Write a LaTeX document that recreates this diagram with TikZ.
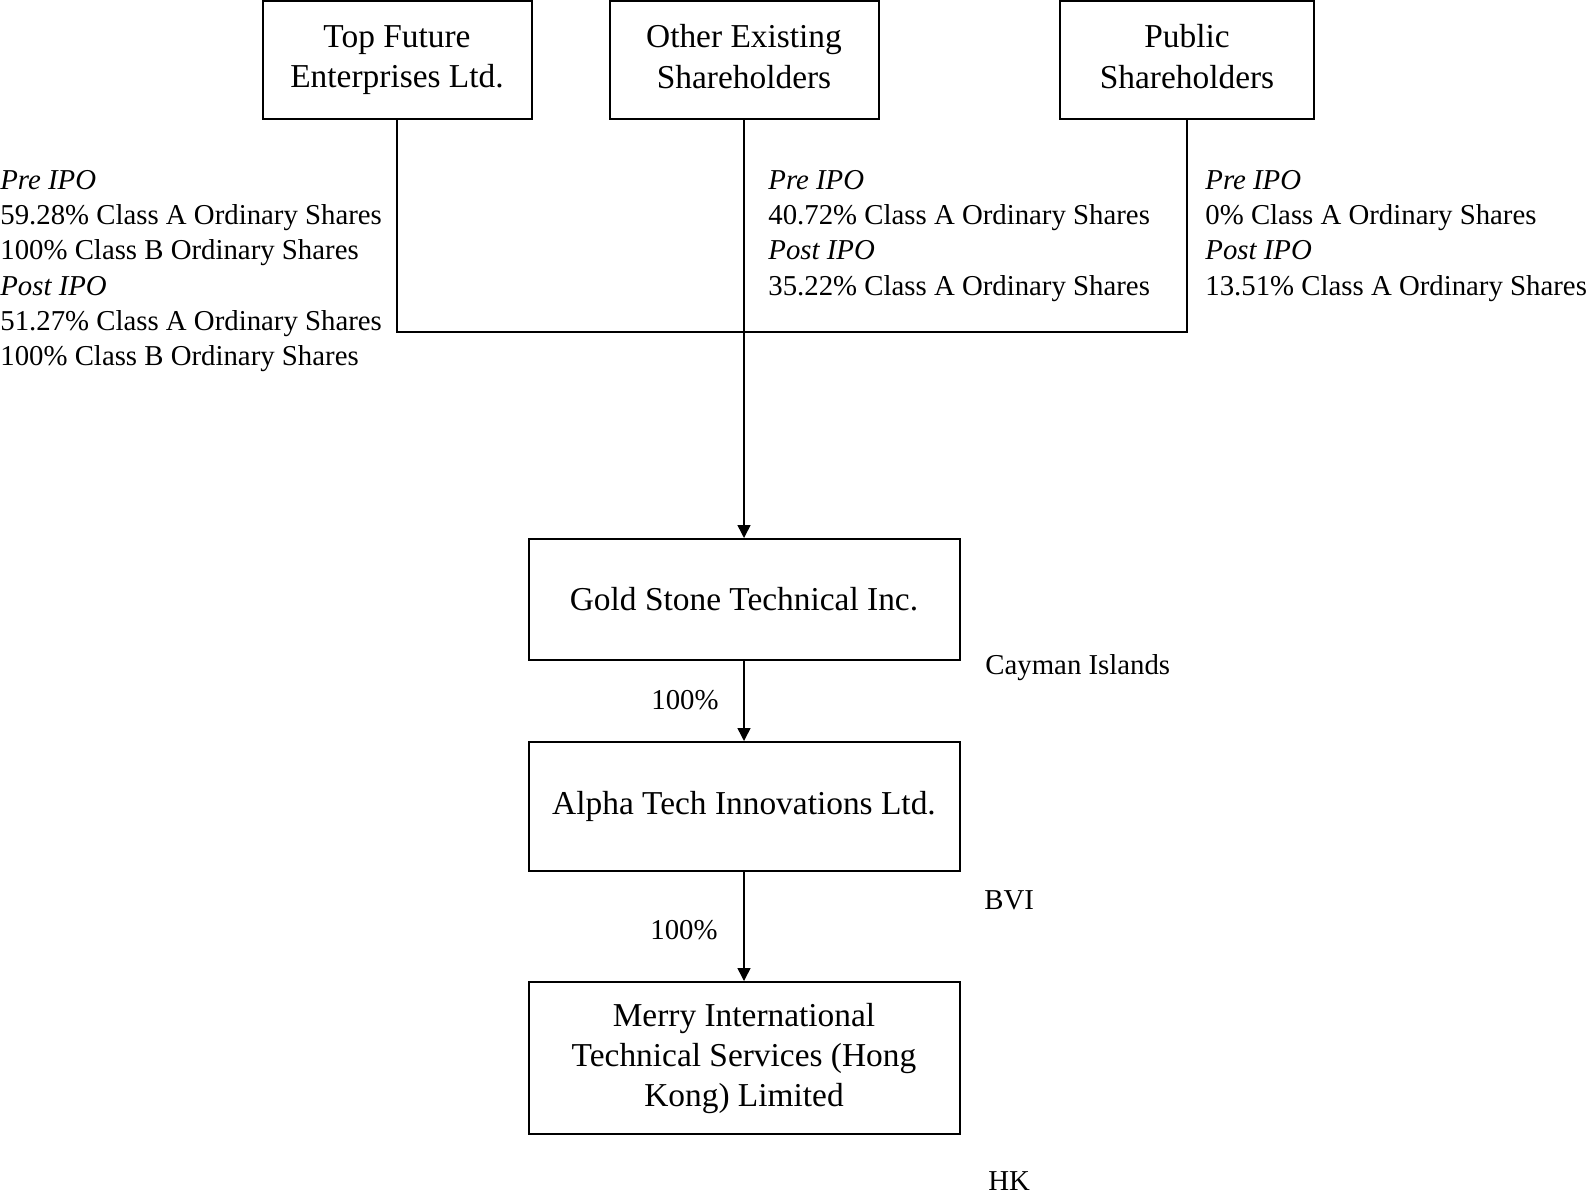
\documentclass[tikz,border=0pt]{standalone}
\usepackage{fontspec}
\setmainfont{Liberation Serif}
\usetikzlibrary{arrows.meta, positioning}

\begin{document}
\begin{tikzpicture}[
    x=0.5pt, y=-0.5pt,
    % Estilos de las cajas
    entity/.style={
        draw, line width=1pt, align=center, inner sep=0pt,
        font=\fontsize{16.7}{20.25}\selectfont
    },
    holding/.style={
        anchor=north west, align=left, inner sep=0pt,
        font=\fontsize{14.4}{17.6}\selectfont
    },
    place/.style={anchor=west, inner sep=0pt, font=\fontsize{14.4}{17.6}\selectfont},
    pct/.style={inner sep=0pt, font=\fontsize{14.4}{17.6}\selectfont},
    % Estilo de las lineas
    link/.style={line width=0.75pt},
    arrow/.style={-{Triangle[length=6.5pt, width=6.5pt]}, line width=0.75pt}
]
    \useasboundingbox (0,0) rectangle (1589,1200);

    % 1. Accionistas
    \node[entity, minimum width=134.5pt, minimum height=59pt] (tfe) at (397,60)  {Top Future\\Enterprises Ltd.};
    \node[entity, minimum width=134.5pt, minimum height=59pt] (oes) at (744,60)  {Other Existing\\Shareholders\vphantom{p}};
    \node[entity, minimum width=127pt,   minimum height=59pt] (pub) at (1187,60) {Public\\Shareholders\vphantom{p}};

    % 2. Participaciones
    \node[holding] (tfeHold) at (0,170)    {\textit{Pre IPO}\\59.28\% Class A Ordinary Shares\\100\% Class B Ordinary Shares\\\textit{Post IPO}\\51.27\% Class A Ordinary Shares\\100\% Class B Ordinary Shares};
    \node[holding] (oesHold) at (768,170)  {\textit{Pre IPO}\\40.72\% Class A Ordinary Shares\\\textit{Post IPO}\\35.22\% Class A Ordinary Shares};
    \node[holding] (pubHold) at (1205,170) {\textit{Pre IPO}\\0\% Class A Ordinary Shares\\\textit{Post IPO}\\13.51\% Class A Ordinary Shares};

    % 3. Sociedades del grupo
    \node[entity, minimum width=215.5pt, minimum height=60.5pt] (gsi) at (744,599.5) {Gold Stone Technical Inc.};
    \node[entity, minimum width=215.5pt, minimum height=64.5pt] (ati) at (744,806.5) {Alpha Tech Innovations Ltd.};
    \node[entity, minimum width=215.5pt, minimum height=76pt, font=\fontsize{16.7}{20}\selectfont] (mit) at (744,1058) {Merry International\\Technical Services (Hong\\Kong) Limited};

    % 4. Jurisdicciones y porcentajes
    \node[place] (cay) at (985,668)  {Cayman Islands};
    \node[place] (bvi) at (984,900)  {BVI};
    \node[place] (hk)  at (988,1181) {HK};
    \node[pct] (pctA) at (685,700) {100\%};
    \node[pct] (pctB) at (684,930) {100\%};

    % 5. Conectores
    \coordinate (join) at (744,332);
    \draw[link] (tfe.south) |- (join);
    \draw[link] (pub.south) |- (join);
    \draw[arrow] (oes.south) -- (gsi.north);
    \draw[arrow] (gsi.south) -- (ati.north);
    \draw[arrow] (ati.south) -- (mit.north);

\end{tikzpicture}
\end{document}
